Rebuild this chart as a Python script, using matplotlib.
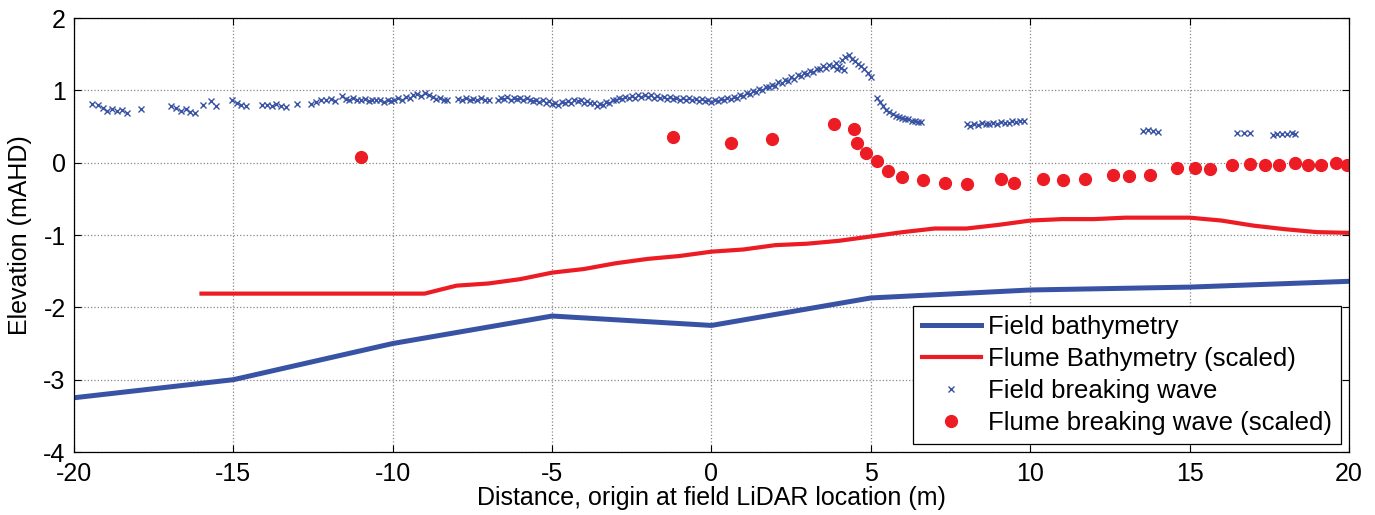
import numpy as np
from matplotlib import pyplot as plt

plt.rcParams['font.family'] = ['Liberation Sans', 'DejaVu Sans']
plt.rcParams['axes.unicode_minus'] = False

# Field bathymetry
field_bx = [-20, -15, -10, -5, 0, 5, 10, 15, 20]
field_by = [-3.25, -3.0, -2.5, -2.12, -2.25, -1.87, -1.76, -1.72, -1.64]

# Flume bathymetry (scaled)
flume_bx = [-16, -9, -8, -7, -6, -5, -4, -3, -2, -1, 0, 1, 2, 3, 4, 5, 6, 7,
            8, 9, 10, 11, 12, 13, 14, 15, 16, 17, 18, 19, 20]
flume_by = [-1.81, -1.81, -1.70, -1.67, -1.61, -1.52, -1.47, -1.39, -1.33,
            -1.29, -1.23, -1.20, -1.14, -1.12, -1.08, -1.02, -0.96, -0.91,
            -0.91, -0.86, -0.80, -0.78, -0.78, -0.76, -0.76, -0.76, -0.80,
            -0.87, -0.92, -0.96, -0.97]

# Flume breaking wave (scaled)
flume_wx = [-11.0, -1.22, 0.6, 1.89, 3.84, 4.47, 4.55, 4.85, 5.2, 5.55, 5.97,
            6.65, 7.31, 8.03, 9.07, 9.49, 10.39, 11.04, 11.73, 12.59, 13.1,
            13.76, 14.61, 15.16, 15.64, 16.33, 16.88, 17.37, 17.79, 18.31,
            18.7, 19.12, 19.59, 19.95]
flume_wy = [0.08, 0.36, 0.27, 0.33, 0.54, 0.46, 0.27, 0.14, 0.02, -0.12,
            -0.20, -0.24, -0.28, -0.30, -0.23, -0.28, -0.23, -0.24, -0.23,
            -0.17, -0.18, -0.17, -0.07, -0.07, -0.09, -0.03, -0.02, -0.03,
            -0.03, -0.01, -0.03, -0.03, -0.01, -0.03]

# Field breaking wave (LiDAR)
field_wx = [
    -19.45, -19.25, -19.1, -18.95, -18.8, -18.65, -18.5, -18.35,
    -17.9,
    -16.95, -16.8, -16.65, -16.5, -16.35, -16.2,
    -15.95, -15.7, -15.55,
    -15.05, -14.9, -14.75, -14.6,
    -14.1, -13.95, -13.8, -13.65, -13.5, -13.35,
    -13.0,
    -12.55, -12.4, -12.25, -12.1, -11.95, -11.8,
    -11.6, -11.48, -11.36, -11.24, -11.12, -11.0, -10.88, -10.76, -10.64,
    -10.52, -10.4, -10.28, -10.16, -10.04,
    -9.95, -9.83, -9.71, -9.59, -9.47, -9.35, -9.23, -9.11, -8.99, -8.87,
    -8.75, -8.63, -8.51, -8.39, -8.3,
    -7.95, -7.83, -7.71, -7.59, -7.47, -7.35, -7.23, -7.11, -6.99,
    -6.7, -6.6, -6.5, -6.4, -6.3, -6.2, -6.1, -6.0, -5.9, -5.8,
    -5.7, -5.6, -5.5, -5.4, -5.3, -5.2, -5.1, -5.0, -4.9, -4.8,
    -4.7, -4.6, -4.5, -4.4, -4.3, -4.2, -4.1, -4.0, -3.9, -3.8,
    -3.7, -3.6, -3.5, -3.4, -3.3, -3.2, -3.1, -3.0, -2.9, -2.8,
    -2.7, -2.6, -2.5, -2.4, -2.3, -2.2, -2.1, -2.0, -1.9, -1.8,
    -1.7, -1.6, -1.5, -1.4, -1.3, -1.2, -1.1, -1.0, -0.9, -0.8,
    -0.7, -0.6, -0.5, -0.4, -0.3, -0.2, -0.1, 0.0, 0.1, 0.2,
    0.3, 0.4, 0.5, 0.6, 0.7, 0.8, 0.9, 1.0, 1.1, 1.2,
    1.3, 1.4, 1.5, 1.6, 1.7, 1.8, 1.9, 2.0, 2.1, 2.2,
    2.3, 2.4, 2.5, 2.6, 2.7, 2.8, 2.9, 3.0, 3.1, 3.2,
    3.3, 3.4, 3.5, 3.6, 3.7, 3.8, 3.9, 4.0, 4.1, 4.2,
    4.3, 4.4, 4.5, 4.6, 4.7, 4.8, 4.9, 5.0,
    3.95, 4.05, 4.15,
    5.18, 5.28, 5.38, 5.48, 5.58, 5.68, 5.78, 5.88, 5.98, 6.08,
    6.18, 6.28, 6.38, 6.48, 6.58,
    8.0, 8.12, 8.24, 8.36, 8.48, 8.6, 8.72, 8.84, 8.96, 9.08,
    9.2, 9.32, 9.44, 9.56, 9.68, 9.8,
    13.55, 13.7, 13.85, 14.0,
    16.5, 16.7, 16.88,
    17.6, 17.75, 17.9, 18.05, 18.2, 18.3,
]
field_wy = [
    0.81, 0.80, 0.76, 0.72, 0.74, 0.71, 0.73, 0.69,
    0.74,
    0.78, 0.75, 0.72, 0.74, 0.70, 0.69,
    0.80, 0.85, 0.79,
    0.86, 0.83, 0.80, 0.79,
    0.80, 0.80, 0.79, 0.81, 0.78, 0.77,
    0.81,
    0.81, 0.84, 0.87, 0.86, 0.88, 0.85,
    0.92, 0.88, 0.86, 0.90, 0.87, 0.86, 0.88, 0.85, 0.87,
    0.86, 0.87, 0.84, 0.86, 0.85,
    0.86, 0.89, 0.87, 0.91, 0.89, 0.93, 0.95, 0.92, 0.96, 0.93,
    0.91, 0.88, 0.90, 0.86, 0.87,
    0.88, 0.86, 0.89, 0.87, 0.88, 0.86, 0.89, 0.87, 0.86,
    0.87, 0.90, 0.88, 0.91, 0.87, 0.90, 0.88, 0.89, 0.86, 0.89,
    0.87, 0.85, 0.87, 0.84, 0.86, 0.83, 0.85, 0.81, 0.83, 0.80,
    0.84, 0.82, 0.85, 0.83, 0.87, 0.85, 0.86, 0.83, 0.85, 0.82,
    0.83, 0.79, 0.81, 0.80, 0.84, 0.83, 0.87, 0.86, 0.90, 0.88,
    0.91, 0.89, 0.92, 0.90, 0.93, 0.91, 0.94, 0.91, 0.93, 0.90,
    0.92, 0.89, 0.91, 0.88, 0.91, 0.88, 0.90, 0.87, 0.89, 0.86,
    0.89, 0.86, 0.88, 0.85, 0.88, 0.85, 0.87, 0.84, 0.87, 0.85,
    0.88, 0.86, 0.90, 0.88, 0.91, 0.90, 0.93, 0.92, 0.96, 0.95,
    0.99, 0.98, 1.02, 1.01, 1.05, 1.04, 1.08, 1.06, 1.11, 1.10,
    1.14, 1.13, 1.18, 1.16, 1.21, 1.20, 1.24, 1.22, 1.27, 1.26,
    1.30, 1.29, 1.33, 1.31, 1.35, 1.34, 1.38, 1.33, 1.42, 1.46,
    1.49, 1.43, 1.40, 1.37, 1.33, 1.30, 1.24, 1.18,
    1.29, 1.31, 1.28,
    0.90, 0.84, 0.78, 0.73, 0.70, 0.68, 0.65, 0.63, 0.62, 0.60,
    0.61, 0.58, 0.58, 0.56, 0.56,
    0.53, 0.51, 0.54, 0.52, 0.55, 0.53, 0.54, 0.55, 0.54, 0.56,
    0.55, 0.55, 0.57, 0.56, 0.58, 0.57,
    0.44, 0.45, 0.44, 0.43,
    0.41, 0.41, 0.41,
    0.38, 0.39, 0.40, 0.39, 0.41, 0.40,
]

blue = '#3953a4'
red = '#ed1c24'

fig = plt.figure(figsize=(13.75, 5.15), dpi=100)
ax = fig.add_axes([0.0538, 0.1223, 0.9273, 0.8427])

ax.plot(field_bx, field_by, color=blue, lw=3.6, label='Field bathymetry')
ax.plot(flume_bx, flume_by, color=red, lw=3.0, label='Flume Bathymetry (scaled)')
ax.plot(field_wx, field_wy, 'x', color=blue, ms=4.8, mew=1.0,
        label='Field breaking wave')
ax.plot(flume_wx, flume_wy, 'o', color=red, ms=8.5, mec=red,
        label='Flume breaking wave (scaled)')

ax.set_xlim(-20, 20)
ax.set_ylim(-4, 2)
ax.set_xticks(np.arange(-20, 21, 5))
ax.set_yticks(np.arange(-4, 3, 1))
ax.grid(True, color='#888888', linestyle=':', linewidth=0.9)
ax.tick_params(direction='in', top=True, right=True, labelsize=18,
               length=5, width=0.8)
ax.tick_params(axis='x', pad=7)
ax.tick_params(axis='y', pad=6)
for s in ax.spines.values():
    s.set_linewidth(0.9)

ax.set_xlabel('Distance, origin at field LiDAR location (m)', fontsize=18,
              labelpad=0)
ax.set_ylabel('Elevation (mAHD)', fontsize=18, labelpad=8)

leg = ax.legend(loc='lower right', fontsize=18.5, handlelength=2.3,
                handletextpad=0.3, borderaxespad=0.3, fancybox=False,
                framealpha=1, edgecolor='black', labelspacing=0.32,
                borderpad=0.35)
leg.get_frame().set_linewidth(0.9)

fig.savefig('out.png', dpi=100)
